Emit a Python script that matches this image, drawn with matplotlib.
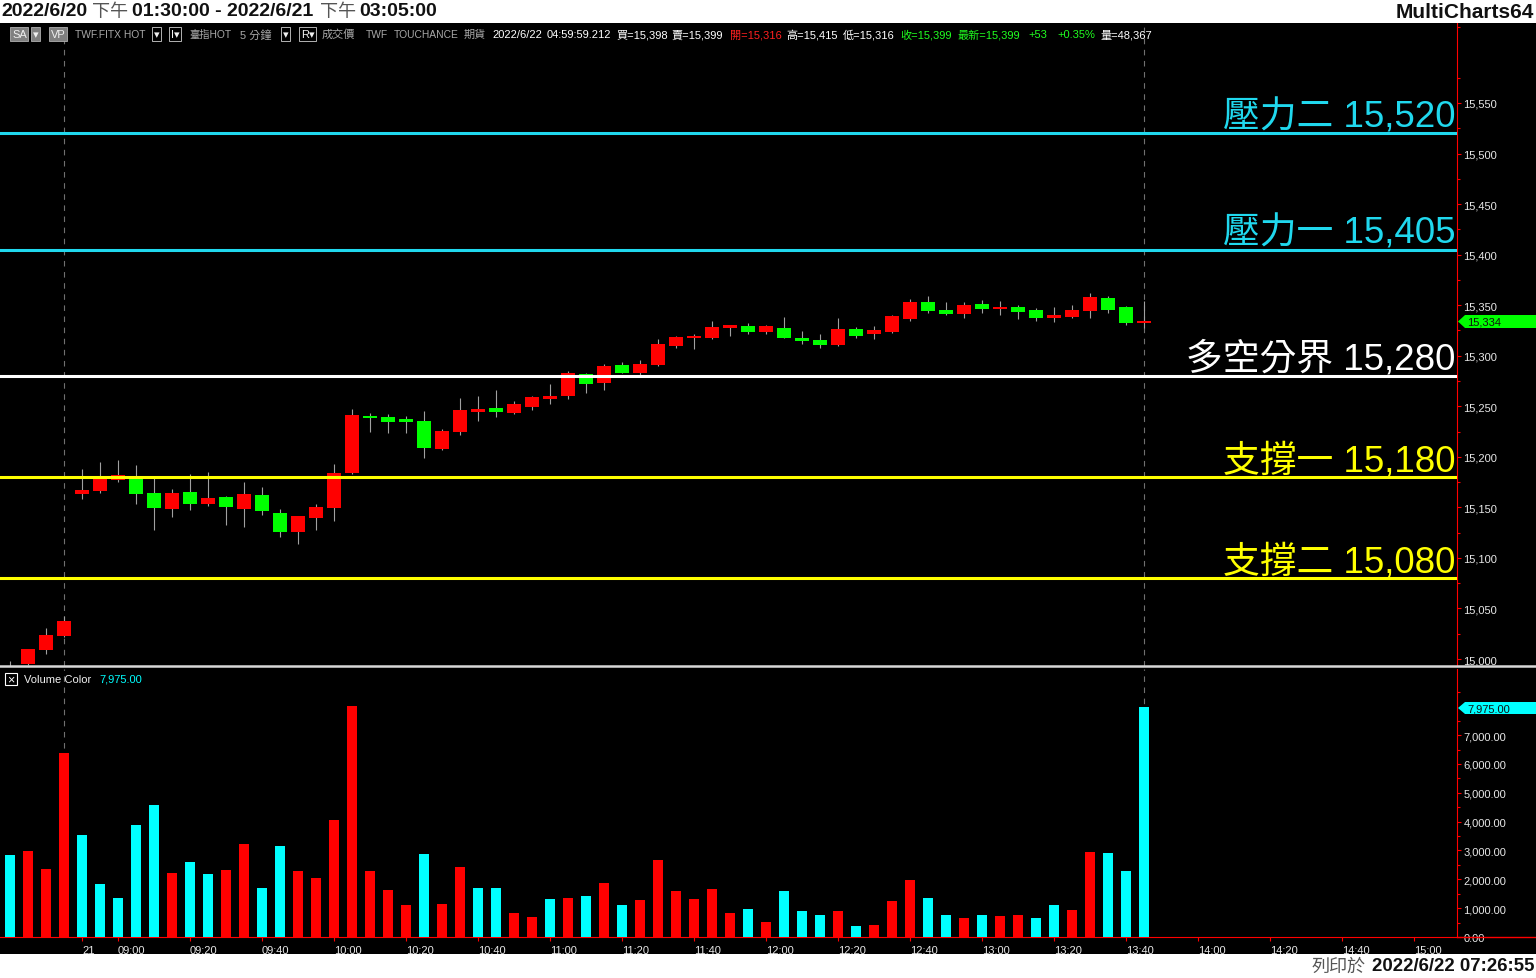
import numpy as np
import matplotlib.pyplot as plt
from matplotlib import font_manager
from matplotlib.patches import Rectangle, Polygon
from matplotlib.lines import Line2D

plt.rcParams['font.family'] = ['Liberation Sans', 'Noto Sans CJK TC', 'DejaVu Sans']

_names = {f.name for f in font_manager.fontManager.ttflist}
HAS_NARROW = 'Liberation Sans Narrow' in _names
NARROW = ['Liberation Sans Narrow', 'Noto Sans CJK TC'] if HAS_NARROW else ['Liberation Sans', 'Noto Sans CJK TC']
TSIZE = 16 if HAS_NARROW else 14

W, H = 1536, 979

# 5 minute bars, index 0..63 (idx 4 = 08:50 of 6/21)
opens = [14985, 14995, 15009, 15023, 15163, 15166, 15177, 15179, 15164, 15148,
         15165, 15153, 15160, 15148, 15162, 15144, 15126, 15139, 15149, 15184,
         15240, 15239, 15237, 15235, 15208, 15225, 15244, 15248, 15243, 15249,
         15257, 15260, 15282, 15273, 15291, 15283, 15291, 15310, 15318, 15318,
         15327, 15329, 15323, 15327, 15318, 15316, 15311, 15326, 15321, 15323,
         15336, 15353, 15345, 15341, 15351, 15346, 15348, 15345, 15337, 15338,
         15344, 15357, 15348, 15332]
highs = [14998, 15010, 15031, 15043, 15188, 15195, 15197, 15192, 15179, 15168,
         15183, 15185, 15161, 15175, 15170, 15148, 15141, 15153, 15193, 15247,
         15243, 15242, 15240, 15245, 15228, 15258, 15260, 15266, 15255, 15260,
         15272, 15285, 15283, 15292, 15294, 15296, 15317, 15320, 15321, 15334,
         15330, 15332, 15330, 15338, 15324, 15321, 15337, 15328, 15329, 15340,
         15356, 15359, 15353, 15353, 15355, 15354, 15350, 15347, 15348, 15350,
         15362, 15359, 15349, 15354]
lows = [14980, 14994, 15005, 15022, 15158, 15164, 15175, 15153, 15128, 15140,
        15147, 15151, 15133, 15131, 15142, 15121, 15114, 15128, 15137, 15183,
        15225, 15224, 15224, 15199, 15207, 15222, 15235, 15239, 15242, 15246,
        15252, 15257, 15263, 15266, 15283, 15281, 15290, 15308, 15307, 15317,
        15320, 15321, 15321, 15318, 15312, 15308, 15310, 15318, 15317, 15322,
        15334, 15342, 15340, 15337, 15342, 15340, 15336, 15334, 15333, 15337,
        15337, 15342, 15330, 15327]
closes = [14990, 15010, 15024, 15038, 15167, 15179, 15182, 15163, 15149, 15164,
          15153, 15159, 15150, 15163, 15146, 15126, 15141, 15150, 15184, 15241,
          15238, 15234, 15234, 15209, 15226, 15246, 15247, 15244, 15252, 15259,
          15260, 15283, 15272, 15290, 15283, 15292, 15312, 15319, 15320, 15328,
          15330, 15323, 15329, 15318, 15315, 15311, 15326, 15320, 15325, 15339,
          15353, 15344, 15341, 15350, 15346, 15348, 15343, 15337, 15340, 15345,
          15358, 15345, 15332, 15334]
volumes = [2850, 2980, 2360, 6380, 3540, 1840, 1350, 3880, 4580, 2220,
           2600, 2180, 2320, 3230, 1700, 3160, 2290, 2050, 4060, 8010,
           2290, 1630, 1110, 2880, 1140, 2430, 1700, 1700, 830, 690,
           1320, 1350, 1420, 1870, 1110, 1280, 2670, 1600, 1320, 1660,
           830, 970, 520, 1600, 900, 760, 900, 380, 420, 1250,
           1980, 1350, 760, 660, 760, 730, 760, 660, 1110, 940,
           2950, 2910, 2290, 7975]
# 1 = red volume bar, 0 = cyan
vol_red = [0, 1, 1, 1, 0, 0, 0, 0, 0, 1, 0, 0, 1, 1, 0, 0, 1, 1, 1, 1,
           1, 1, 1, 0, 1, 1, 0, 0, 1, 1, 0, 1, 0, 1, 0, 1, 1, 1, 1, 1,
           1, 0, 1, 0, 0, 0, 1, 0, 1, 1, 1, 0, 0, 1, 0, 1, 1, 0, 0, 1,
           1, 0, 0, 0]

tick_pos = [4, 6, 10, 14, 18, 22, 26, 30, 34, 38, 42, 46, 50, 54, 58, 62, 66, 70, 74, 78]
tick_labels = ['21', '09:00', '09:20', '09:40', '10:00', '10:20', '10:40', '11:00',
               '11:20', '11:40', '12:00', '12:20', '12:40', '13:00', '13:20', '13:40',
               '14:00', '14:20', '14:40', '15:00']

levels = [15520, 15405, 15280, 15180, 15080]
level_names = ['壓力二', '壓力一', '多空分界', '支撐一', '支撐二']
level_colors = ['#20D8EE', '#20D8EE', '#FFFFFF', '#FFFF00', '#FFFF00']

info_items = [
    (75, 'TWF.FITX HOT', '#A8A8A8'), (189, '臺指HOT', '#A8A8A8'), (240, '5 分鐘', '#A8A8A8'),
    (322, '成交價', '#A8A8A8'), (366, 'TWF', '#A8A8A8'), (394, 'TOUCHANCE', '#A8A8A8'),
    (464, '期貨', '#A8A8A8'), (492, '2022/6/22', '#FFFFFF'), (547, '04:59:59.212', '#FFFFFF'),
    (616, '買=15,398', '#FFFFFF'), (672, '賣=15,399', '#FFFFFF'), (730, '開=15,316', '#FF2020'),
    (786, '高=15,415', '#FFFFFF'), (843, '低=15,316', '#FFFFFF'), (900, '收=15,399', '#20FF20'),
    (958, '最新=15,399', '#20FF20'), (1028, '+53', '#20FF20'), (1057, '+0.35%', '#20FF20'),
    (1100, '量=48,367', '#FFFFFF'),
]


def fx(x):
    return x / W


def fy(y):
    return 1 - y / H


fig = plt.figure(figsize=(W / 100, H / 100), dpi=100, facecolor='black')

# white bands top and bottom
fig.add_artist(Rectangle((0, fy(24)), 1, 24 / H, transform=fig.transFigure, fc='white', ec='none'))
fig.add_artist(Rectangle((0, 0), 1, 24 / H, transform=fig.transFigure, fc='white', ec='none'))

xlim = (-0.556, 80.39)
x = np.arange(len(opens))

# ---- price panel
ax_p = fig.add_axes([0, fy(667), fx(1457), (667 - 24) / H])
ax_p.set_facecolor('black')
ax_p.set_xlim(*xlim)
ax_p.set_ylim(14993.1, 15629.1)

o = np.array(opens); c = np.array(closes)
ax_p.vlines(x, lows, highs, color='#A0A0A0', lw=0.8, zorder=2)
body_col = np.where(c >= o, '#FF0000', '#00FF00')
bottoms = np.minimum(o, c)
heights = np.maximum(np.abs(c - o), 1.8)
ax_p.bar(x, heights, bottom=bottoms, width=0.74, color=body_col, zorder=3)

for lv, nm, col in zip(levels, level_names, level_colors):
    ax_p.axhline(lv, color=col, lw=2.2, zorder=4)
    ax_p.annotate(f'{nm} {lv:,}', xy=(1, lv), xycoords=('axes fraction', 'data'),
                  xytext=(-1, 5), textcoords='offset points', ha='right', va='baseline',
                  fontsize=26.5, color=col, zorder=5)

ax_p.yaxis.tick_right()
ax_p.set_yticks(np.arange(15000, 15551, 50))
ax_p.set_yticklabels([f'{v:,}' for v in np.arange(15000, 15551, 50)])
ax_p.set_yticks(np.arange(15025, 15626, 50), minor=True)
ax_p.tick_params(axis='y', which='major', colors='red', labelcolor='#E8E8E8',
                 length=3, width=0.8, labelsize=8, pad=1.5)
ax_p.tick_params(axis='y', which='minor', colors='red', length=2, width=0.8)
ax_p.tick_params(axis='x', which='both', bottom=False, labelbottom=False)
for s in ['top', 'left', 'bottom']:
    ax_p.spines[s].set_visible(False)
ax_p.spines['right'].set_color('red')

# ---- volume panel
ax_v = fig.add_axes([0, fy(938), fx(1457), (938 - 670) / H])
ax_v.set_facecolor('black')
ax_v.set_xlim(*xlim)
ax_v.set_ylim(0, 9293)
vcol = ['#FF0000' if r else '#00FFFF' for r in vol_red]
ax_v.bar(x, volumes, width=0.6, color=vcol, zorder=3)

ax_v.yaxis.tick_right()
ax_v.set_yticks(np.arange(0, 7001, 1000))
ax_v.set_yticklabels([f'{v:,.2f}' for v in np.arange(0, 7001, 1000)])
ax_v.set_yticks(np.arange(500, 9001, 1000), minor=True)
ax_v.tick_params(axis='y', which='major', colors='red', labelcolor='#E8E8E8',
                 length=3, width=0.8, labelsize=8, pad=1.5)
ax_v.tick_params(axis='y', which='minor', colors='red', length=2, width=0.8)
ax_v.set_xticks(tick_pos)
ax_v.set_xticklabels(tick_labels)
ax_v.tick_params(axis='x', colors='red', labelcolor='#E8E8E8', length=3, width=0.8,
                 labelsize=8, pad=2.5)
for lbl in ax_v.get_xticklabels():
    lbl.set_ha('left')
for s in ['top', 'left']:
    ax_v.spines[s].set_visible(False)
ax_v.spines['right'].set_color('red')
ax_v.spines['bottom'].set_color('red')

# session separators
for ax_ in (ax_p, ax_v):
    for xv in (3, 63):
        ax_.axvline(xv, color='#707070', lw=0.8, ls=(0, (5, 5)), zorder=1)

# separator between panels
fig.add_artist(Line2D([0, 1], [fy(667), fy(667)], transform=fig.transFigure, color='#D8D8D8', lw=1.8))
fig.add_artist(Line2D([fx(1457), 1], [fy(938), fy(938)], transform=fig.transFigure, color='red', lw=1))

# price / volume markers on axis
def marker(y0, y1, text, fc):
    pts = [(1458, (y0 + y1) / 2), (1465, y0), (1536, y0), (1536, y1), (1465, y1)]
    fig.add_artist(Polygon([(fx(a), fy(b)) for a, b in pts], closed=True,
                           transform=fig.transFigure, fc=fc, ec='none'))
    fig.text(fx(1467), fy((y0 + y1) / 2), text, fontsize=8, color='#111111', va='center')

marker(316, 329, '15,334', '#00FF00')
marker(703, 715, '7,975.00', '#00FFFF')

# top band
fig.text(fx(1), fy(12), '2022/6/20', fontsize=TSIZE, weight='bold', color='#111111',
         va='center', family=NARROW)
fig.text(fx(92), fy(12), '下午', fontsize=13, color='#555555', va='center')
fig.text(fx(132), fy(12), '01:30:00 - 2022/6/21', fontsize=TSIZE, weight='bold', color='#111111',
         va='center', family=NARROW)
fig.text(fx(320), fy(12), '下午', fontsize=13, color='#555555', va='center')
fig.text(fx(359), fy(12), '03:05:00', fontsize=TSIZE, weight='bold', color='#111111',
         va='center', family=NARROW)
fig.text(fx(1534), fy(12), 'MultiCharts64', fontsize=TSIZE + 1, weight='bold', color='#111111',
         va='center', ha='right', family=NARROW)

# bottom band
fig.text(fx(1534), fy(967), '2022/6/22 07:26:55', fontsize=TSIZE - 0.6, weight='bold',
         color='#111111', va='center', ha='right', family=NARROW)
fig.text(fx(1366), fy(967), '列印於', fontsize=13, color='#555555', va='center', ha='right')

# info line
box_gray = dict(boxstyle='square,pad=0.15', fc='#808080', ec='#B0B0B0', lw=0.6)
box_dark = dict(boxstyle='square,pad=0.15', fc='black', ec='#D0D0D0', lw=0.6)
fig.text(fx(12), fy(35), 'SA', fontsize=8, color='#F0F0F0', va='center', bbox=box_gray)
fig.text(fx(33), fy(35), '▾', fontsize=8, color='#F0F0F0', va='center', bbox=box_gray)
fig.text(fx(51), fy(35), 'VP', fontsize=8, color='#F0F0F0', va='center', bbox=box_gray)
for xp, s in [(154, '▾'), (171, 'I▾'), (283, '▾'), (301, 'R▾')]:
    fig.text(fx(xp), fy(35), s, fontsize=8, color='#F0F0F0', va='center', bbox=box_dark)
for xp, s, col in info_items:
    fs = 7.4 if s.isupper() or s == 'TWF.FITX HOT' else 8
    fig.text(fx(xp), fy(35), s, fontsize=fs, color=col, va='center')

# volume legend
fig.add_artist(Rectangle((fx(5), fy(686)), 12 / W, 12 / H, transform=fig.transFigure,
                         fc='black', ec='white', lw=0.8))
fig.text(fx(11), fy(680), '×', fontsize=9, color='white', va='center', ha='center')
fig.text(fx(24), fy(680), 'Volume Color', fontsize=8, color='#F0F0F0', va='center')
fig.text(fx(99), fy(680), '7,975.00', fontsize=8, color='#00FFFF', va='center')

fig.savefig('out.png', dpi=100, facecolor='black')
